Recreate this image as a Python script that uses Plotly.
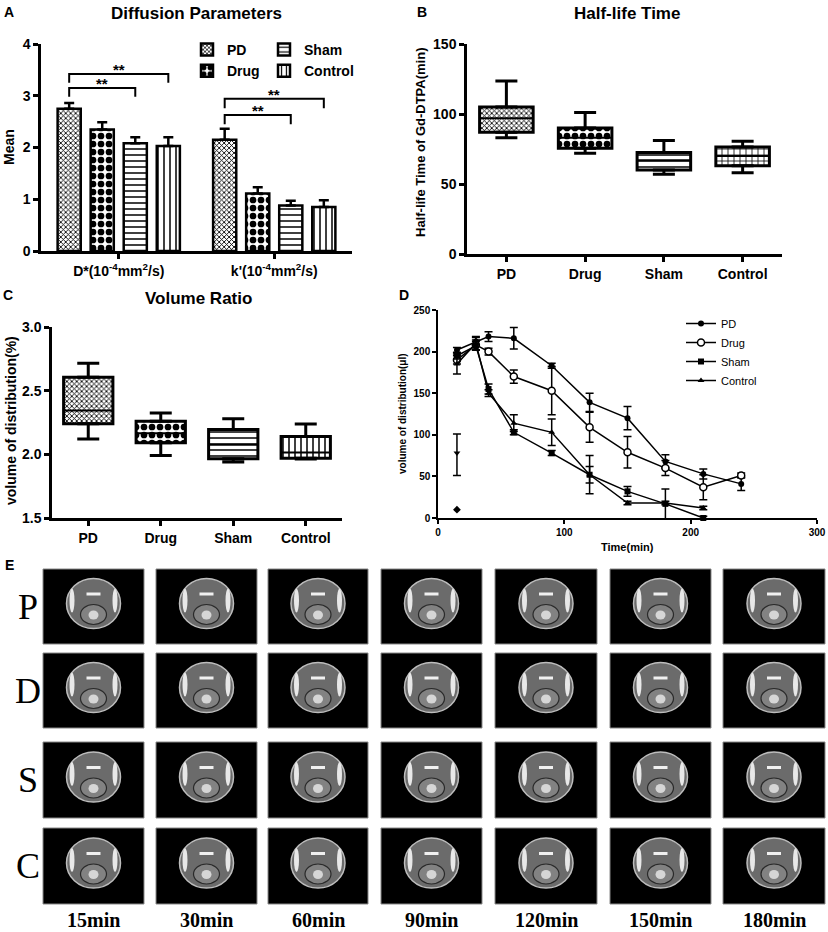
import plotly.graph_objects as go

W, H = 828, 932


def fx(p):
    return p / W


def fy(p):
    return 1 - p / H


SANS = "Liberation Sans, Arial, sans-serif"
SERIF = "Liberation Serif, Times New Roman, serif"

# ---------------- Panel A data ----------------
a_categories = ["D*(10<sup>-4</sup>mm<sup>2</sup>/s)", "k'(10<sup>-4</sup>mm<sup>2</sup>/s)"]
groups = ["PD", "Drug", "Sham", "Control"]
a_pd = [2.75, 2.15]
a_drug = [2.35, 1.11]
a_sham = [2.08, 0.88]
a_control = [2.03, 0.85]
a_pd_err = [0.11, 0.21]
a_drug_err = [0.14, 0.12]
a_sham_err = [0.12, 0.09]
a_control_err = [0.17, 0.13]

# ---------------- Panel B data (min) ----------------
b_lower = [83.0, 72.0, 57.0, 58.0]
b_q1 = [87.0, 75.5, 60.0, 63.0]
b_median = [97.0, 83.0, 67.0, 70.0]
b_q3 = [105.0, 90.0, 72.5, 76.5]
b_upper = [123.5, 101.0, 81.0, 80.5]

# ---------------- Panel C data (%) ----------------
c_lower = [2.12, 1.99, 1.94, 1.963]
c_q1 = [2.24, 2.09, 1.965, 1.97]
c_median = [2.345, 2.165, 2.075, 2.015]
c_q3 = [2.605, 2.26, 2.195, 2.14]
c_upper = [2.715, 2.325, 2.28, 2.238]

# ---------------- Panel D data (µl) ----------------
d_time = [15, 30, 40, 60, 90, 120, 150, 180, 210, 240]
d_pd = [202, 212, 218, 216, 183, 139, 120, 68, 53, 41]
d_pd_err = [3, 5, 6, 13, 3, 11, 14, 8, 6, 8]
d_drug = [190, 208, 200, 170, 153, 109, 79, 60, 37, 51]
d_drug_err = [5, 6, 4, 8, 29, 18, 19, 9, 15, 3]
d_time_short = [15, 30, 40, 60, 90, 120, 150, 180, 210]
d_sham = [195, 207, 155, 103, 78, 52, 32, 17, 0]
d_sham_err = [4, 5, 6, 3, 3, 10, 6, 18, 2]
d_control = [185, 210, 150, 114, 103, 52, 18, 18, 12]
d_control_err = [12, 8, 4, 10, 16, 23, 2, 2, 2]
d_extra1_time = [15]
d_extra1 = [78]
d_extra1_plus = [23]
d_extra1_minus = [27]
d_extra2_time = [15]
d_extra2 = [10]

# ---------------- Panel E labels ----------------
e_rows = ["P", "D", "S", "C"]
e_cols = ["15min", "30min", "60min", "90min", "120min", "150min", "180min"]

# styles
PAT = {
    "PD": dict(shape="x", size=3.5, solidity=0.45),
    "Drug": dict(shape=".", size=8, solidity=0.55),
    "Sham": dict(shape="-", size=6, solidity=0.25),
    "Control": dict(shape="|", size=6, solidity=0.25),
}
PAT_B_CONTROL = dict(shape="+", size=6, solidity=0.25)

fig = go.Figure()

# ---- Panel A bars ----
a_vals = {"PD": a_pd, "Drug": a_drug, "Sham": a_sham, "Control": a_control}
a_errs = {"PD": a_pd_err, "Drug": a_drug_err, "Sham": a_sham_err, "Control": a_control_err}
a_leg = {"PD": "legend", "Drug": "legend", "Sham": "legend3", "Control": "legend3"}
for g in groups:
    p = PAT[g]
    fig.add_trace(go.Bar(
        x=a_categories, y=a_vals[g], name=g, xaxis="x", yaxis="y",
        legend=a_leg[g],
        marker=dict(color="white", line=dict(color="black", width=2.5),
                    pattern=dict(shape=p["shape"], size=p["size"], solidity=p["solidity"],
                                 fgcolor="black", bgcolor="white", fillmode="replace")),
        error_y=dict(type="data", symmetric=False, array=a_errs[g], arrayminus=[0] * len(a_errs[g]),
                     color="black", thickness=2.5, width=5),
    ))


# ---- box helper ----
def add_boxes(xa, ya, lower, q1, med, q3, upper, patterns, bw=0.68):
    xs = list(range(len(q1)))
    fig.add_trace(go.Bar(
        x=xs, y=[b - a for a, b in zip(q1, q3)], base=q1, width=bw,
        xaxis=xa, yaxis=ya, showlegend=False, hoverinfo="skip",
        marker=dict(color="white", line=dict(color="black", width=3),
                    pattern=dict(shape=[p["shape"] for p in patterns],
                                 size=[p["size"] for p in patterns],
                                 solidity=[p["solidity"] for p in patterns],
                                 fgcolor="black", bgcolor="white", fillmode="replace")),
    ))
    mx, my = [], []
    for i, m in enumerate(med):
        mx += [i - bw / 2, i + bw / 2, None]
        my += [m, m, None]
    fig.add_trace(go.Scatter(x=mx, y=my, mode="lines", xaxis=xa, yaxis=ya, showlegend=False,
                             line=dict(color="black", width=2), hoverinfo="skip"))
    fig.add_trace(go.Scatter(
        x=xs, y=q3, mode="markers", marker=dict(size=1, color="rgba(0,0,0,0)"),
        xaxis=xa, yaxis=ya, showlegend=False, hoverinfo="skip",
        error_y=dict(type="data", symmetric=False, array=[u - t for u, t in zip(upper, q3)],
                     arrayminus=[0] * len(q3), color="black", thickness=3, width=11)))
    fig.add_trace(go.Scatter(
        x=xs, y=q1, mode="markers", marker=dict(size=1, color="rgba(0,0,0,0)"),
        xaxis=xa, yaxis=ya, showlegend=False, hoverinfo="skip",
        error_y=dict(type="data", symmetric=False, arrayminus=[t - l for l, t in zip(lower, q1)],
                     array=[0] * len(q1), color="black", thickness=3, width=11)))


add_boxes("x2", "y2", b_lower, b_q1, b_median, b_q3, b_upper,
          [PAT["PD"], PAT["Drug"], PAT["Sham"], PAT_B_CONTROL])
add_boxes("x3", "y3", c_lower, c_q1, c_median, c_q3, c_upper,
          [PAT["PD"], PAT["Drug"], PAT["Sham"], PAT["Control"]], bw=0.68)

# ---- Panel D lines ----
d_series = [
    ("PD", d_time, d_pd, d_pd_err, dict(symbol="circle", size=6, color="black")),
    ("Drug", d_time, d_drug, d_drug_err, dict(symbol="circle", size=7, color="white",
                                              line=dict(color="black", width=1.5))),
    ("Sham", d_time_short, d_sham, d_sham_err, dict(symbol="square", size=6, color="black")),
    ("Control", d_time_short, d_control, d_control_err, dict(symbol="triangle-up", size=6, color="black")),
]
for name, t, v, e, mk in d_series:
    fig.add_trace(go.Scatter(
        x=t, y=v, name=name, mode="lines+markers", xaxis="x4", yaxis="y4", legend="legend2",
        line=dict(color="black", width=1.5), marker=mk, cliponaxis=False,
        error_y=dict(type="data", array=e, color="black", thickness=1.5, width=4)))
fig.add_trace(go.Scatter(
    x=d_extra1_time, y=d_extra1, mode="markers", xaxis="x4", yaxis="y4", showlegend=False,
    marker=dict(symbol="triangle-down", size=6, color="black"),
    error_y=dict(type="data", symmetric=False, array=d_extra1_plus, arrayminus=d_extra1_minus,
                 color="black", thickness=1.5, width=4)))
fig.add_trace(go.Scatter(
    x=d_extra2_time, y=d_extra2, mode="markers", xaxis="x4", yaxis="y4", showlegend=False,
    marker=dict(symbol="diamond", size=6, color="black")))

# ---- axes ----
thick = dict(showline=True, linecolor="black", linewidth=2.5, ticks="outside", ticklen=5,
             tickwidth=2.5, tickcolor="black", showgrid=False, zeroline=False, automargin=False,
             tickfont=dict(family=SANS, size=14, color="black", weight="bold"))
thin = dict(showline=True, linecolor="black", linewidth=1.5, ticks="outside", ticklen=4,
            tickwidth=1.5, tickcolor="black", showgrid=False, zeroline=False, automargin=False,
            tickfont=dict(family=SANS, size=10, color="black", weight="bold"))

layout = dict(
    width=W, height=H, margin=dict(l=0, r=0, t=0, b=0),
    paper_bgcolor="white", plot_bgcolor="white",
    barmode="group", bargap=0.15, bargroupgap=0.3,
    xaxis=dict(domain=[fx(41), fx(352)], anchor="y", range=[-0.5, 1.5], type="category", **thick),
    yaxis=dict(domain=[fy(251), fy(44)], anchor="x", range=[0, 4], dtick=1, **thick),
    xaxis2=dict(domain=[fx(467), fx(782)], anchor="y2", range=[-0.5, 3.5],
                tickvals=[0, 1, 2, 3], ticktext=groups, **thick),
    yaxis2=dict(domain=[fy(254), fy(44)], anchor="x2", range=[0, 150], dtick=50, **thick),
    xaxis3=dict(domain=[fx(52), fx(342)], anchor="y3", range=[-0.5, 3.5],
                tickvals=[0, 1, 2, 3], ticktext=groups, **thick),
    yaxis3=dict(domain=[fy(518), fy(327)], anchor="x3", range=[1.5, 3.0], dtick=0.5,
                tickformat=".1f", **thick),
    xaxis4=dict(domain=[fx(438), fx(817)], anchor="y4", range=[0, 300], dtick=100, **thin),
    yaxis4=dict(domain=[fy(518), fy(310)], anchor="x4", range=[0, 250], dtick=50, **thin),
    legend=dict(x=fx(187), y=fy(34), xanchor="left", yanchor="top", bgcolor="rgba(0,0,0,0)",
                font=dict(family=SANS, size=14, color="black", weight="bold"),
                itemwidth=30, tracegroupgap=0),
    legend3=dict(x=fx(264), y=fy(34), xanchor="left", yanchor="top", bgcolor="rgba(0,0,0,0)",
                 font=dict(family=SANS, size=14, color="black", weight="bold"),
                 itemwidth=30, tracegroupgap=0),
    legend2=dict(x=fx(681), y=fy(309), xanchor="left", yanchor="top", bgcolor="rgba(0,0,0,0)",
                 font=dict(family=SANS, size=11, color="black"), itemwidth=30, tracegroupgap=0),
)
fig.update_layout(**layout)

# ---- annotations ----
ann = []


def text(x, y, s, size, weight="bold", family=SANS, angle=0, xanchor="center", yanchor="middle"):
    ann.append(dict(x=fx(x), y=fy(y), xref="paper", yref="paper", text=s, showarrow=False,
                    textangle=angle, xanchor=xanchor, yanchor=yanchor,
                    font=dict(family=family, size=size, color="black", weight=weight)))


text(9, 12, "A", 14)
text(422, 12, "B", 14)
text(8, 295, "C", 14)
text(404, 295, "D", 14)
text(9, 565, "E", 14)
text(196, 13, "Diffusion Parameters", 17)
text(627, 13, "Half-life Time", 17)
text(198, 298, "Volume Ratio", 17)
text(9, 147, "Mean", 14, angle=-90)
text(421, 143, "Half-life Time of Gd-DTPA(min)", 13, angle=-90)
text(11, 421, "volume of distribution(%)", 14, angle=-90)
text(402, 414, "volume of distribution(μl)", 10, angle=-90)
text(627, 547, "Time(min)", 11)

# significance brackets in panel A (positions follow the grouped-bar slots)
slot = (1 - 0.15) / 4
off = {g: (i - 1.5) * slot for i, g in enumerate(groups)}
brackets = [
    (0, "Sham", 3.15, 2.98), (0, "Control", 3.42, 3.25),
    (1, "Sham", 2.63, 2.45), (1, "Control", 2.94, 2.76),
]
shapes = []
for cat, g, ytop, ybot in brackets:
    x0 = cat + off["PD"]
    x1 = cat + off[g]
    shapes.append(dict(type="path", xref="x", yref="y",
                       path=f"M {x0},{ybot} L {x0},{ytop} L {x1},{ytop} L {x1},{ybot}",
                       line=dict(color="black", width=2)))
    ann.append(dict(x=(x0 + x1) / 2, y=ytop, xref="x", yref="y", text="**", showarrow=False,
                    yanchor="bottom", yshift=-6,
                    font=dict(family=SANS, size=15, color="black", weight="bold")))

# ---- Panel E: image grid placeholders ----
col_bounds = [(43, 144), (156, 257), (268, 368), (381, 482), (495, 597), (610, 711), (723, 825)]
row_bounds = [(569, 644), (653, 728), (742, 818), (828, 904)]
for r, (y0, y1) in enumerate(row_bounds):
    cy = (y0 + y1) / 2
    text(28, cy, e_rows[r], 36, weight="normal", family=SERIF)
    for c, (x0, x1) in enumerate(col_bounds):
        cx = (x0 + x1) / 2
        shapes.append(dict(type="rect", xref="paper", yref="paper",
                           x0=fx(x0), x1=fx(x1), y0=fy(y1), y1=fy(y0),
                           fillcolor="black", line=dict(color="#888888", width=1), layer="above"))
        shapes.append(dict(type="circle", xref="paper", yref="paper",
                           x0=fx(cx - 27), x1=fx(cx + 27), y0=fy(cy + 22), y1=fy(cy - 28),
                           fillcolor="#6b6b6b", line=dict(color="#bdbdbd", width=1.5), layer="above"))
        shapes.append(dict(type="circle", xref="paper", yref="paper",
                           x0=fx(cx - 24), x1=fx(cx - 19), y0=fy(cy + 6), y1=fy(cy - 18),
                           fillcolor="#e8e8e8", line=dict(width=0), layer="above"))
        shapes.append(dict(type="circle", xref="paper", yref="paper",
                           x0=fx(cx + 19), x1=fx(cx + 24), y0=fy(cy + 6), y1=fy(cy - 18),
                           fillcolor="#e8e8e8", line=dict(width=0), layer="above"))
        shapes.append(dict(type="circle", xref="paper", yref="paper",
                           x0=fx(cx - 13), x1=fx(cx + 13), y0=fy(cy + 18), y1=fy(cy - 2),
                           fillcolor="#828282", line=dict(color="#2a2a2a", width=1.2), layer="above"))
        shapes.append(dict(type="circle", xref="paper", yref="paper",
                           x0=fx(cx - 5), x1=fx(cx + 5), y0=fy(cy + 13), y1=fy(cy + 4),
                           fillcolor="#d6d6d6", line=dict(width=0), layer="above"))
        shapes.append(dict(type="rect", xref="paper", yref="paper",
                           x0=fx(cx - 7), x1=fx(cx + 7), y0=fy(cy - 11), y1=fy(cy - 14),
                           fillcolor="#f0f0f0", line=dict(width=0), layer="above"))
for c, (x0, x1) in enumerate(col_bounds):
    text((x0 + x1) / 2, 920, e_cols[c], 20, family=SERIF)

fig.update_layout(annotations=ann, shapes=shapes)
fig.write_html("out.html", config={"displayModeBar": False},
               post_script="document.body.style.margin='0';document.body.style.overflow='hidden';")
